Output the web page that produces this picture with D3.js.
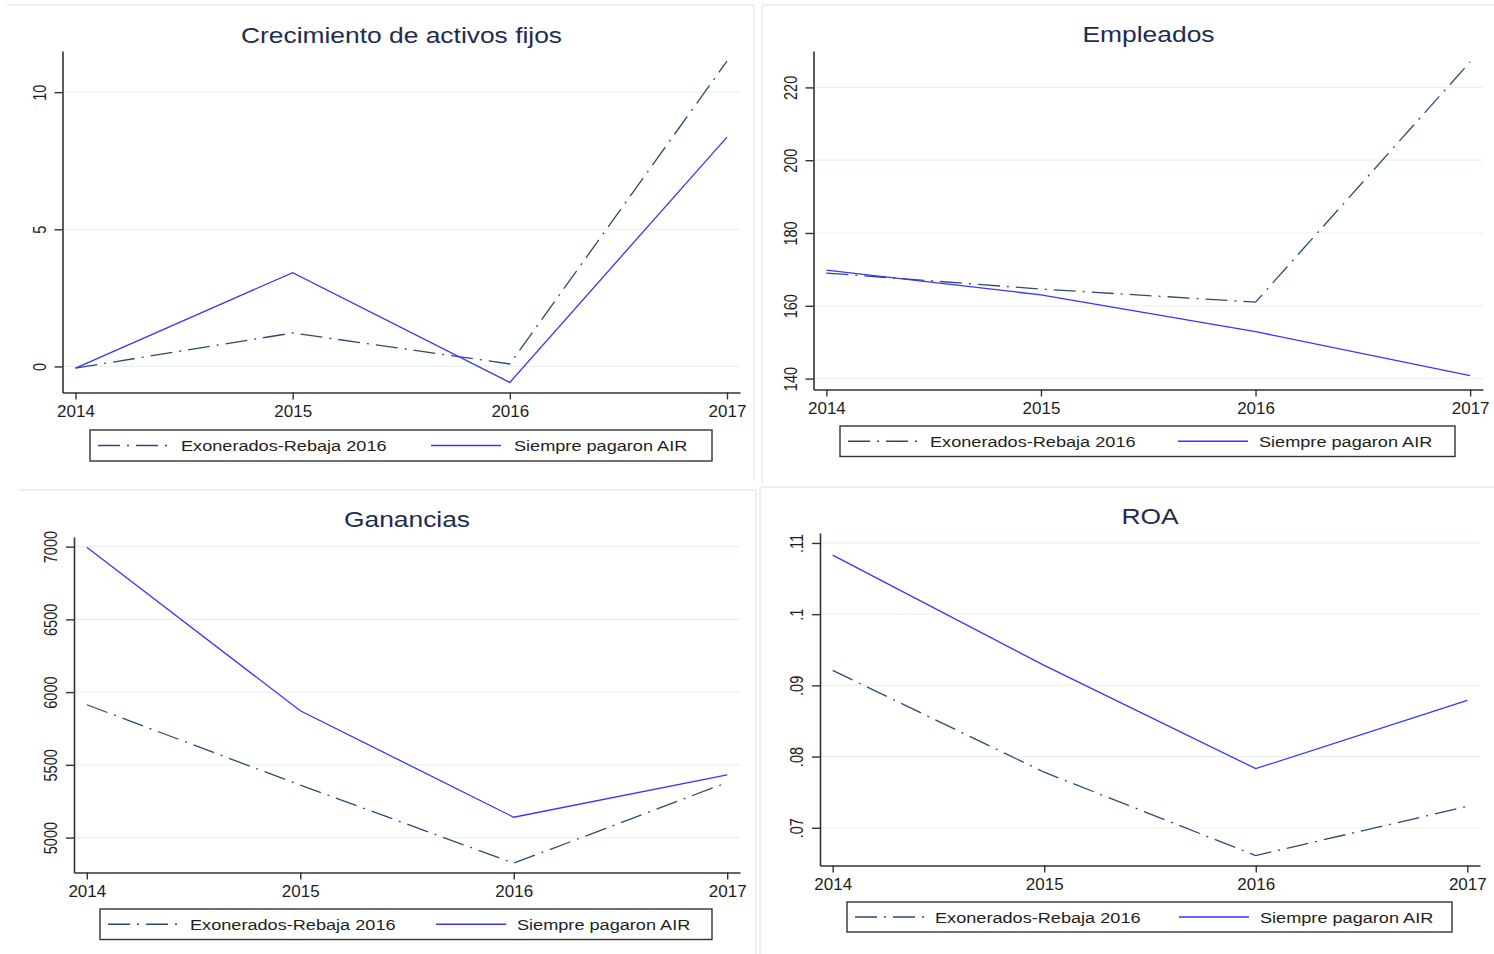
<!DOCTYPE html>
<html>
<head>
<meta charset="utf-8">
<script src="https://cdn.jsdelivr.net/npm/d3@7/dist/d3.min.js"></script>
<style>
  html, body { margin: 0; padding: 0; background: #ffffff; }
  svg { display: block; }
  text { font-family: "Liberation Sans", Arial, sans-serif; }
</style>
</head>
<body>
<svg id="chart" width="1494" height="954"></svg>
<script>
// Years on the horizontal axis
const years = [2014, 2015, 2016, 2017];

// Series names
const seriesExonerados = "Exonerados-Rebaja 2016";
const seriesSiempre = "Siempre pagaron AIR";

// Crecimiento de activos fijos
const activosExonerados = [-0.06, 1.22, 0.09, 11.13];
const activosSiempre = [-0.06, 3.42, -0.58, 8.36];
const activosTicks = [0, 5, 10];

// Empleados
const empleadosExonerados = [169.0, 164.6, 161.0, 227.0];
const empleadosSiempre = [169.8, 163.0, 152.9, 140.8];
const empleadosTicks = [140, 160, 180, 200, 220];

// Ganancias
const gananciasExonerados = [5913, 5361, 4824, 5379];
const gananciasSiempre = [6995, 5872, 5140, 5431];
const gananciasTicks = [5000, 5500, 6000, 6500, 7000];

// ROA
const roaExonerados = [0.0921, 0.0778, 0.0661, 0.0730];
const roaSiempre = [0.1083, 0.0928, 0.0783, 0.0879];
const roaTicks = [0.07, 0.08, 0.09, 0.10, 0.11];

const colorExonerados = "#2b4b70";
const colorSiempre = "#3535ff";
const dashExonerados = "22,7,2,7";

const fmtInt = d3.format("d");
const fmtRoa = d => d3.format(".2~f")(d).replace(/^0/, "");

const panels = [
  {
    title: "Crecimiento de activos fijos", exon: activosExonerados, siempre: activosSiempre,
    ticks: activosTicks, fmt: fmtInt, yDomain: [-0.95, 11.5],
    left: 62.5, right: 740, top: 51, bottom: 392.5, titleX: 401.5, titleY: 42.5,
    frame: { x1: 7, y1: 5, x2: 754, y2: 480, sides: ["top", "right"] },
    legend: { x: 90, y: 430, w: 622, h: 31, l1: 98, t1: 181, l2: 431, t2: 514 }
  },
  {
    title: "Empleados", exon: empleadosExonerados, siempre: empleadosSiempre,
    ticks: empleadosTicks, fmt: fmtInt, yDomain: [137, 230],
    left: 813.5, right: 1483, top: 51, bottom: 389.5, titleX: 1148.5, titleY: 42,
    frame: { x1: 762, y1: 5, x2: 1494, y2: 484, sides: ["top", "left"] },
    legend: { x: 840, y: 426, w: 615, h: 30.5, l1: 848, t1: 930, l2: 1178, t2: 1259 }
  },
  {
    title: "Ganancias", exon: gananciasExonerados, siempre: gananciasSiempre,
    ticks: gananciasTicks, fmt: fmtInt, yDomain: [4760, 7066],
    left: 74, right: 740, top: 537, bottom: 872.5, titleX: 407, titleY: 527,
    frame: { x1: 19, y1: 490, x2: 756, y2: 954, sides: ["top", "right"] },
    legend: { x: 100, y: 909, w: 612, h: 30.5, l1: 108, t1: 190, l2: 436, t2: 517 }
  },
  {
    title: "ROA", exon: roaExonerados, siempre: roaSiempre,
    ticks: roaTicks, fmt: fmtRoa, yDomain: [0.0647, 0.1114],
    left: 820, right: 1480, top: 533, bottom: 865.5, titleX: 1150, titleY: 524,
    frame: { x1: 760, y1: 487, x2: 1494, y2: 954, sides: ["top", "left"] },
    legend: { x: 847, y: 902, w: 605, h: 30, l1: 855, t1: 935, l2: 1179, t2: 1260 }
  }
];

const svg = d3.select("#chart");

panels.forEach(p => {
  const g = svg.append("g");

  // faint panel frame
  const f = p.frame;
  const frameLines = {
    top: [f.x1, f.y1, f.x2, f.y1],
    right: [f.x2, f.y1, f.x2, f.y2],
    left: [f.x1, f.y1, f.x1, f.y2]
  };
  f.sides.forEach(s => {
    const [a, b, c, d] = frameLines[s];
    g.append("line").attr("x1", a).attr("y1", b).attr("x2", c).attr("y2", d)
      .attr("stroke", "#e3ebef").attr("stroke-width", 1.5);
  });

  const x = d3.scaleLinear().domain([2013.94, 2017.06]).range([p.left, p.right]);
  const y = d3.scaleLinear().domain(p.yDomain).range([p.bottom, p.top]);

  // horizontal grid
  g.append("g").selectAll("line").data(p.ticks).join("line")
    .attr("x1", p.left).attr("x2", p.right)
    .attr("y1", d => y(d)).attr("y2", d => y(d))
    .attr("stroke", "#eaf1f4").attr("stroke-width", 1.2);

  // x axis
  const xAxis = g.append("g").attr("transform", `translate(0,${p.bottom})`)
    .call(d3.axisBottom(x).tickValues(years).tickFormat(fmtInt).tickSizeOuter(0).tickSizeInner(7).tickPadding(0));
  xAxis.select(".domain").attr("stroke", "#333").attr("stroke-width", 1.6);
  xAxis.selectAll(".tick line").attr("stroke", "#333").attr("stroke-width", 1.4);
  xAxis.selectAll(".tick text")
    .attr("y", 24.5).attr("dy", null)
    .attr("font-size", 17).attr("fill", "#1e1e1e");

  // y axis
  const yAxis = g.append("g").attr("transform", `translate(${p.left},0)`)
    .call(d3.axisLeft(y).tickValues(p.ticks).tickFormat(p.fmt).tickSizeOuter(0).tickSizeInner(8));
  yAxis.select(".domain").attr("stroke", "#333").attr("stroke-width", 1.6);
  yAxis.selectAll(".tick line").attr("stroke", "#333").attr("stroke-width", 1.4);
  yAxis.selectAll(".tick text")
    .attr("x", null).attr("dy", null)
    .attr("text-anchor", "middle")
    .attr("font-size", 14.5).attr("fill", "#1e1e1e")
    .attr("transform", "translate(-17,0) scale(1.3,1) rotate(-90)");

  // series lines
  const line = d3.line().x((d, i) => x(years[i])).y(d => y(d));
  g.append("path").datum(p.exon).attr("d", line)
    .attr("fill", "none").attr("stroke", colorExonerados).attr("stroke-width", 1.3)
    .attr("stroke-dasharray", dashExonerados);
  g.append("path").datum(p.siempre).attr("d", line)
    .attr("fill", "none").attr("stroke", colorSiempre).attr("stroke-width", 1.3);

  // title
  g.append("text")
    .attr("transform", `translate(${p.titleX},${p.titleY}) scale(1.2,1)`)
    .attr("text-anchor", "middle").attr("font-size", 22).attr("fill", "#1d2c50")
    .text(p.title);

  // legend
  const L = p.legend;
  const lg = g.append("g");
  lg.append("rect").attr("x", L.x).attr("y", L.y).attr("width", L.w).attr("height", L.h)
    .attr("fill", "#fff").attr("stroke", "#333").attr("stroke-width", 1.4);
  const my = L.y + L.h / 2;
  lg.append("line").attr("x1", L.l1).attr("x2", L.l1 + 70).attr("y1", my).attr("y2", my)
    .attr("stroke", colorExonerados).attr("stroke-width", 1.3).attr("stroke-dasharray", dashExonerados);
  lg.append("text").attr("transform", `translate(${L.t1},${my + 5.5}) scale(1.21,1)`)
    .attr("font-size", 15).attr("fill", "#1e1e1e")
    .text(seriesExonerados);
  lg.append("line").attr("x1", L.l2).attr("x2", L.l2 + 70).attr("y1", my).attr("y2", my)
    .attr("stroke", colorSiempre).attr("stroke-width", 1.3);
  lg.append("text").attr("transform", `translate(${L.t2},${my + 5.5}) scale(1.21,1)`)
    .attr("font-size", 15).attr("fill", "#1e1e1e")
    .text(seriesSiempre);
});
</script>
</body>
</html>
